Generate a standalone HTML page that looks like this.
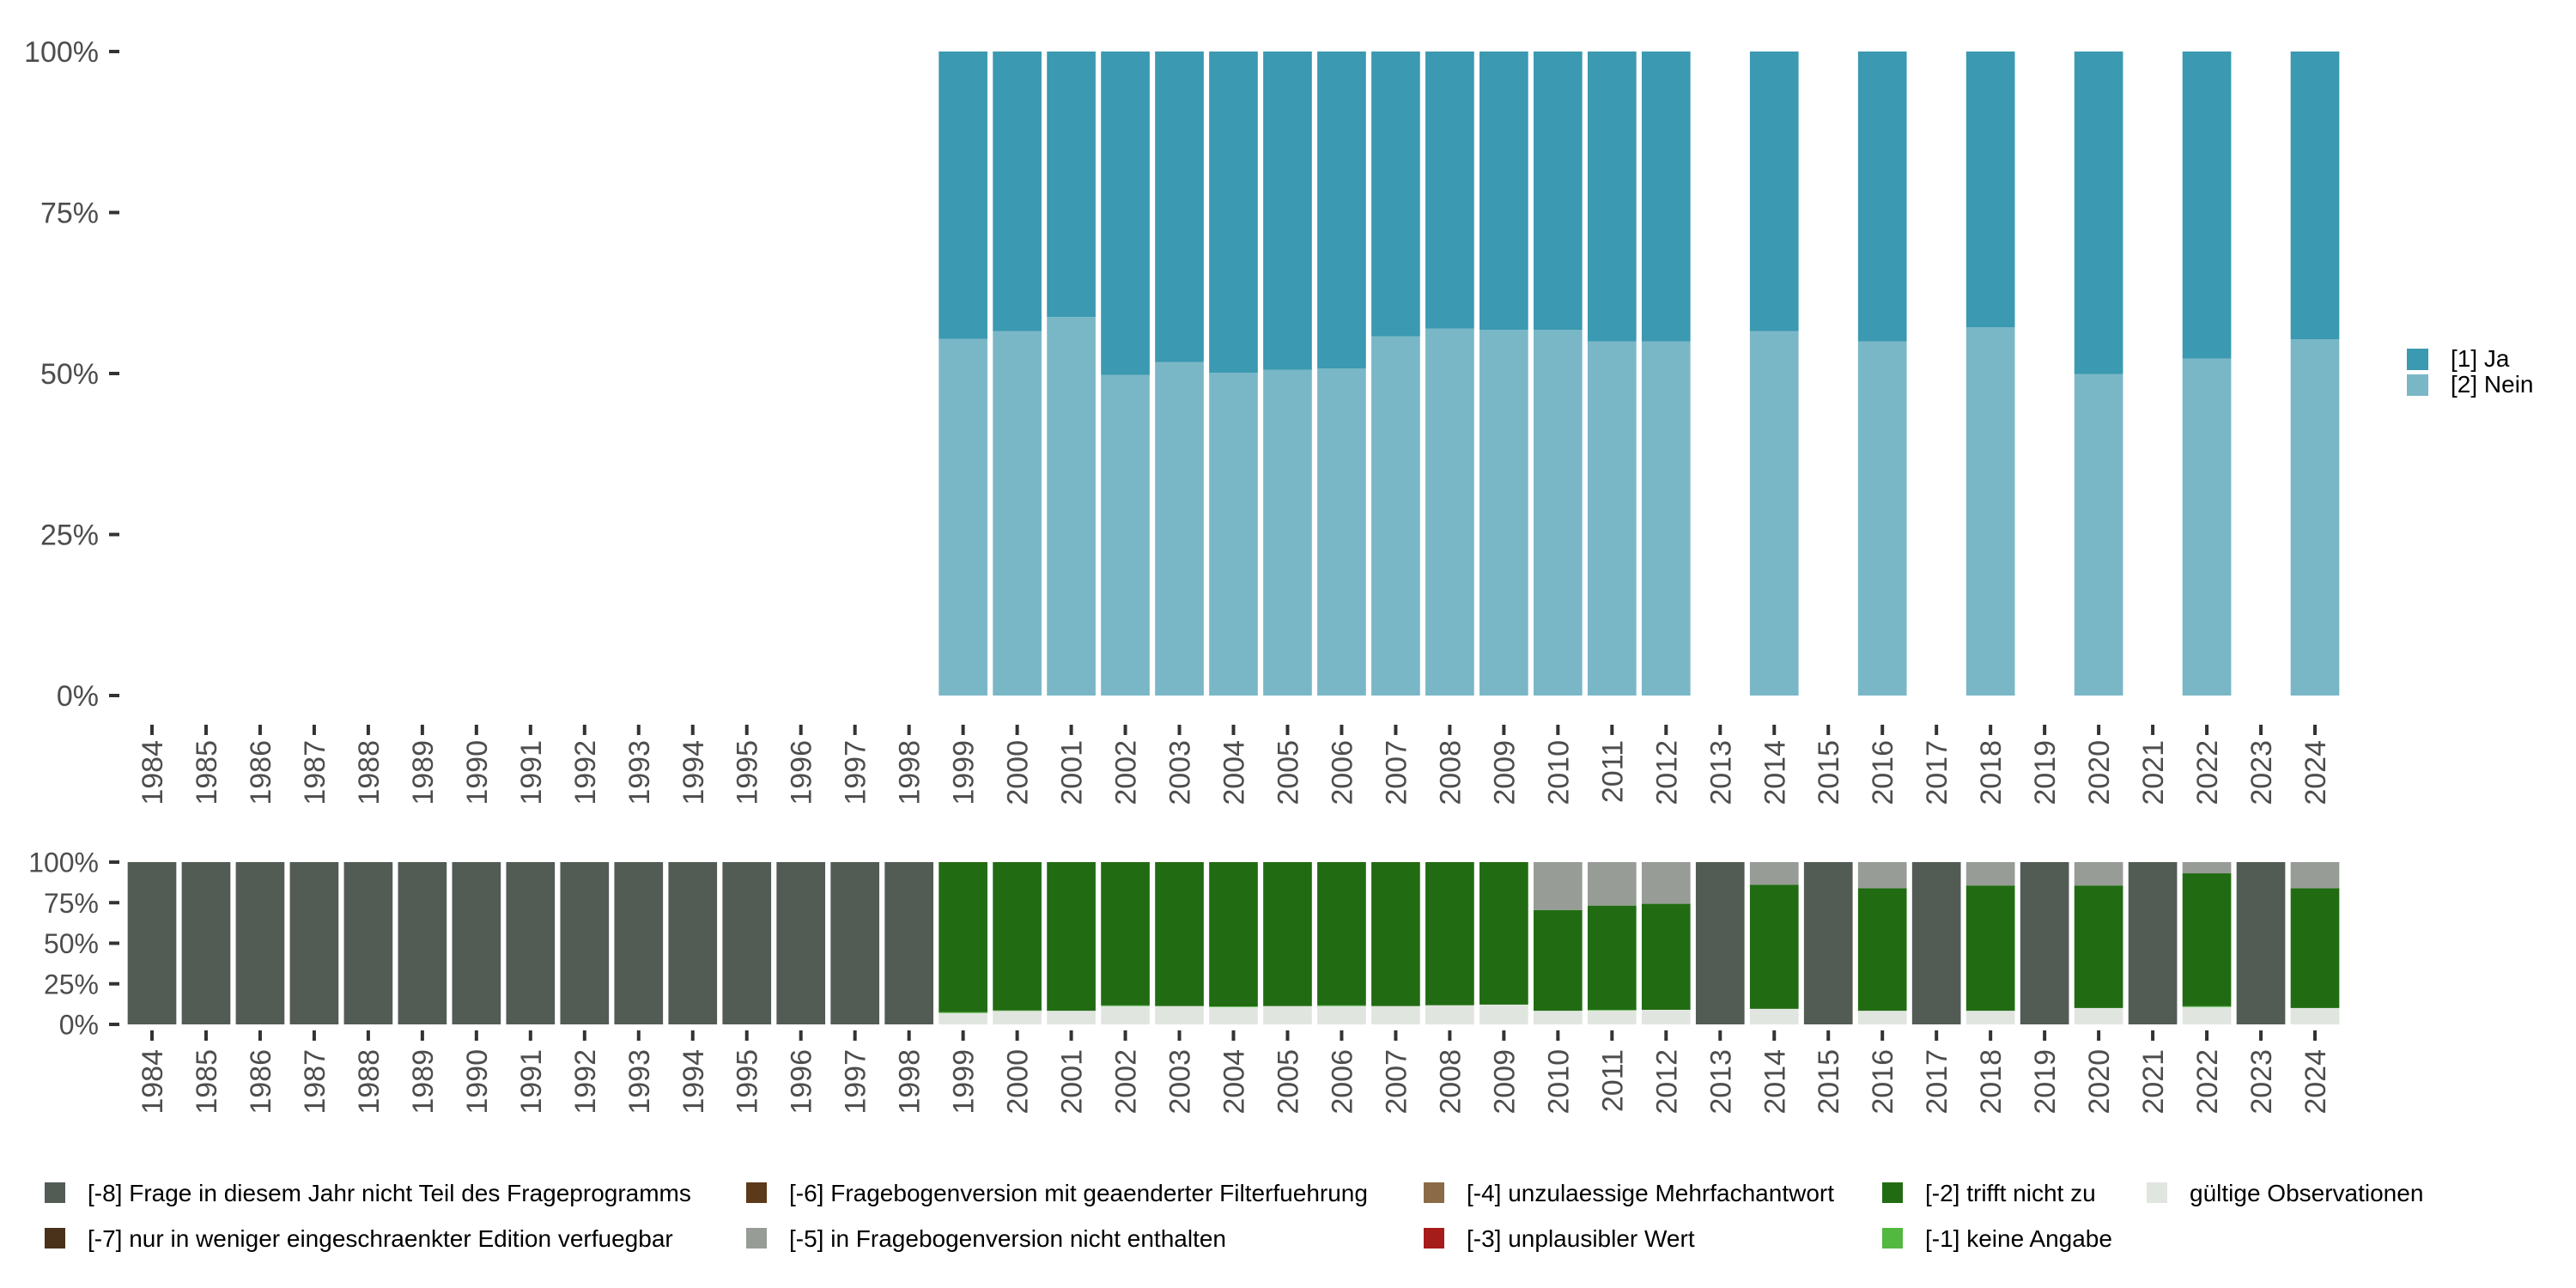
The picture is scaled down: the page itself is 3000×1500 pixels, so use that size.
<!DOCTYPE html>
<html><head><meta charset="utf-8"><style>
html,body{margin:0;padding:0;background:#fff;}
svg{display:block;font-family:"Liberation Sans",sans-serif;}
</style></head><body>
<svg id="chart" width="3000" height="1500" xmlns="http://www.w3.org/2000/svg"></svg>
<script>
const years = [1984,1985,1986,1987,1988,1989,1990,1991,1992,1993,1994,1995,1996,1997,1998,1999,2000,2001,2002,2003,2004,2005,2006,2007,2008,2009,2010,2011,2012,2013,2014,2015,2016,2017,2018,2019,2020,2021,2022,2023,2024];
const topYears = [1999,2000,2001,2002,2003,2004,2005,2006,2007,2008,2009,2010,2011,2012,2014,2016,2018,2020,2022,2024];
const neinPct = [55.4,56.6,58.8,49.8,51.8,50.1,50.6,50.8,55.8,57.0,56.8,56.8,55.0,55.0,56.6,55.0,57.2,49.9,52.3,55.3];
const validPct = [7.0,8.3,8.4,11.3,11.3,10.7,11.3,11.3,11.3,11.8,12.2,8.4,8.6,9.0,9.6,8.4,8.4,10.1,10.7,10.1];
const keinePct = [0.5,0.3,0,0.4,0,0.4,0,0.4,0,0,0,0,0.4,0,0,0,0,0,0.5,0];
const triffPct = [100,100,100,100,100,100,100,100,100,100,100,70.5,73.2,74.3,86.1,83.9,85.6,85.6,93.1,83.9];
const yTicks = [0,25,50,75,100];
const C = {ja:'#3b99b1',nein:'#7ab7c6',m8:'#535b55',m7:'#4a3119',m6:'#5a3a1a',m5:'#989c97',m4:'#8b6a48',m3:'#a61c1a',m2:'#216c12',m1:'#52b83f',valid:'#e1e5e0'};
const svg = document.getElementById('chart');
const NS='http://www.w3.org/2000/svg';
function mk(tag,attrs,parent){const e=document.createElementNS(NS,tag);for(const k in attrs)e.setAttribute(k,attrs[k]);(parent||svg).appendChild(e);return e;}
const x0=177, step=(2696-177)/40, bw=step*0.9;
function xC(y){return x0+years.indexOf(y)*step;}
function yTop(p){return 810-p*7.5;}
function yBot(p){return 1193-p*1.89;}

function axes(yf,tickY,labY,fs,prefix){
  yTicks.forEach(t=>{
    const l=mk('line',{x1:127,x2:139,y1:yf(t),y2:yf(t),stroke:'#333','stroke-width':4});
    
    
    const tx=mk('text',{x:115,y:yf(t)+fs*0.36,'text-anchor':'end','font-size':fs,fill:'#4d4d4d'});
    tx.textContent=t+'%';
    
    
  });
  years.forEach(y=>{
    const x=xC(y);
    const l=mk('line',{x1:x,x2:x,y1:tickY,y2:tickY+12,stroke:'#333','stroke-width':4});
    
    
    const tx=mk('text',{transform:`translate(${x+12},${labY}) rotate(-90)`,'text-anchor':'end','font-size':34,fill:'#4d4d4d'});
    tx.textContent=y;
    
    
  });
}
function bar(x,y1,y2,fill,name){
  if(Math.abs(y2-y1)<0.01)return;
  const r=mk('rect',{x:x-bw/2,y:Math.min(y1,y2),width:bw,height:Math.abs(y2-y1),fill:fill});
  
  
}
axes(yTop,844,862,34,'top');
topYears.forEach((y,i)=>{
  const x=xC(y);
  bar(x,yTop(0),yTop(neinPct[i]),C.nein,'bar-nein-'+y);
  bar(x,yTop(neinPct[i]),yTop(100),C.ja,'bar-ja-'+y);
});
axes(yBot,1200,1222,32,'bottom');
years.forEach(y=>{
  const i=topYears.indexOf(y);
  const x=xC(y);
  if(i<0){bar(x,yBot(0),yBot(100),C.m8,'bar-not-in-program-'+y);return;}
  const v=validPct[i],k=keinePct[i],t=triffPct[i];
  bar(x,yBot(0),yBot(v),C.valid,'bar-valid-'+y);
  bar(x,yBot(v),yBot(v+k),C.m1,'bar-keine-angabe-'+y);
  bar(x,yBot(v+k),yBot(t),C.m2,'bar-trifft-nicht-zu-'+y);
  bar(x,yBot(t),yBot(100),C.m5,'bar-not-in-version-'+y);
});
[['[1] Ja',C.ja,406],['[2] Nein',C.nein,436]].forEach(([lab,col,y])=>{
  const g=mk('g',{});
  
  
  mk('rect',{x:2803,y:y,width:25,height:25,fill:col},g);
  const t=mk('text',{x:2854,y:y+21,'font-size':28,fill:'#000'},g);t.textContent=lab;
});
const legLabels=['[-8] Frage in diesem Jahr nicht Teil des Frageprogramms','[-7] nur in weniger eingeschraenkter Edition verfuegbar','[-6] Fragebogenversion mit geaenderter Filterfuehrung','[-5] in Fragebogenversion nicht enthalten','[-4] unzulaessige Mehrfachantwort','[-3] unplausibler Wert','[-2] trifft nicht zu','[-1] keine Angabe','gültige Observationen'];
const legColors=[C.m8,C.m7,C.m6,C.m5,C.m4,C.m3,C.m2,C.m1,C.valid];
const colX=[52,869,1658,2192,2500];
legLabels.forEach((lab,i)=>{
  const cx=colX[Math.floor(i/2)], ry=(i%2===0)?1377:1430;
  const g=mk('g',{});
  
  
  mk('rect',{x:cx,y:ry,width:24,height:24,fill:legColors[i]},g);
  const t=mk('text',{x:cx+50,y:ry+22,'font-size':28,fill:'#000'},g);t.textContent=lab;
});
</script>
</body></html>
